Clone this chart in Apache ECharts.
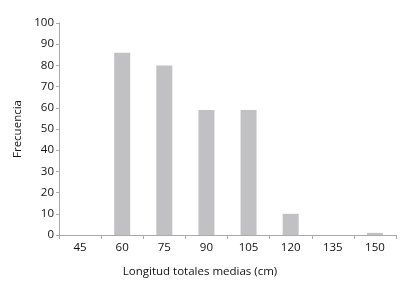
<!DOCTYPE html>
<html><head><meta charset="utf-8">
<script src="https://cdn.jsdelivr.net/npm/echarts@6/dist/echarts.min.js"></script>
<style>html,body{margin:0;padding:0;background:#fff}#c{width:403px;height:283px}</style>
</head><body><div id="c"></div>
<script>
var categories = ['45','60','75','90','105','120','135','150'];
var frecuencia = [0, 86, 80, 59, 59, 10, 0, 1];
var yTicks = [0,10,20,30,40,50,60,70,80,90,100];

var chart = echarts.init(document.getElementById('c'));
var font = 'Open Sans';
chart.setOption({
  animation: false,
  grid: {left: 59, right: 7, top: 23, bottom: 43},
  xAxis: {
    type: 'category', data: categories,
    name: 'Longitud totales medias (cm)', nameLocation: 'middle', nameGap: 31,
    nameTextStyle: {color: '#111', fontFamily: font, fontSize: 11.5, padding: [0, 55, 0, 0]},
    axisLine: {lineStyle: {color: '#aaa'}},
    axisTick: {show: true, length: 4, lineStyle: {color: '#aaa'}},
    axisLabel: {color: '#111', fontFamily: font, fontSize: 11.5, margin: 7}
  },
  yAxis: {
    type: 'value', min: yTicks[0], max: yTicks[yTicks.length-1], interval: 10,
    name: 'Frecuencia', nameLocation: 'middle', nameGap: 33,
    nameTextStyle: {color: '#111', fontFamily: font, fontSize: 11.5},
    axisLine: {show: true, lineStyle: {color: '#aaa'}},
    axisTick: {show: true, length: 3, lineStyle: {color: '#aaa'}},
    splitLine: {show: false},
    axisLabel: {color: '#111', fontFamily: font, fontSize: 11.5, margin: 5}
  },
  series: [{
    type: 'bar', data: frecuencia, barWidth: 16,
    itemStyle: {color: '#c1c1c3'}
  }]
});
</script></body></html>
